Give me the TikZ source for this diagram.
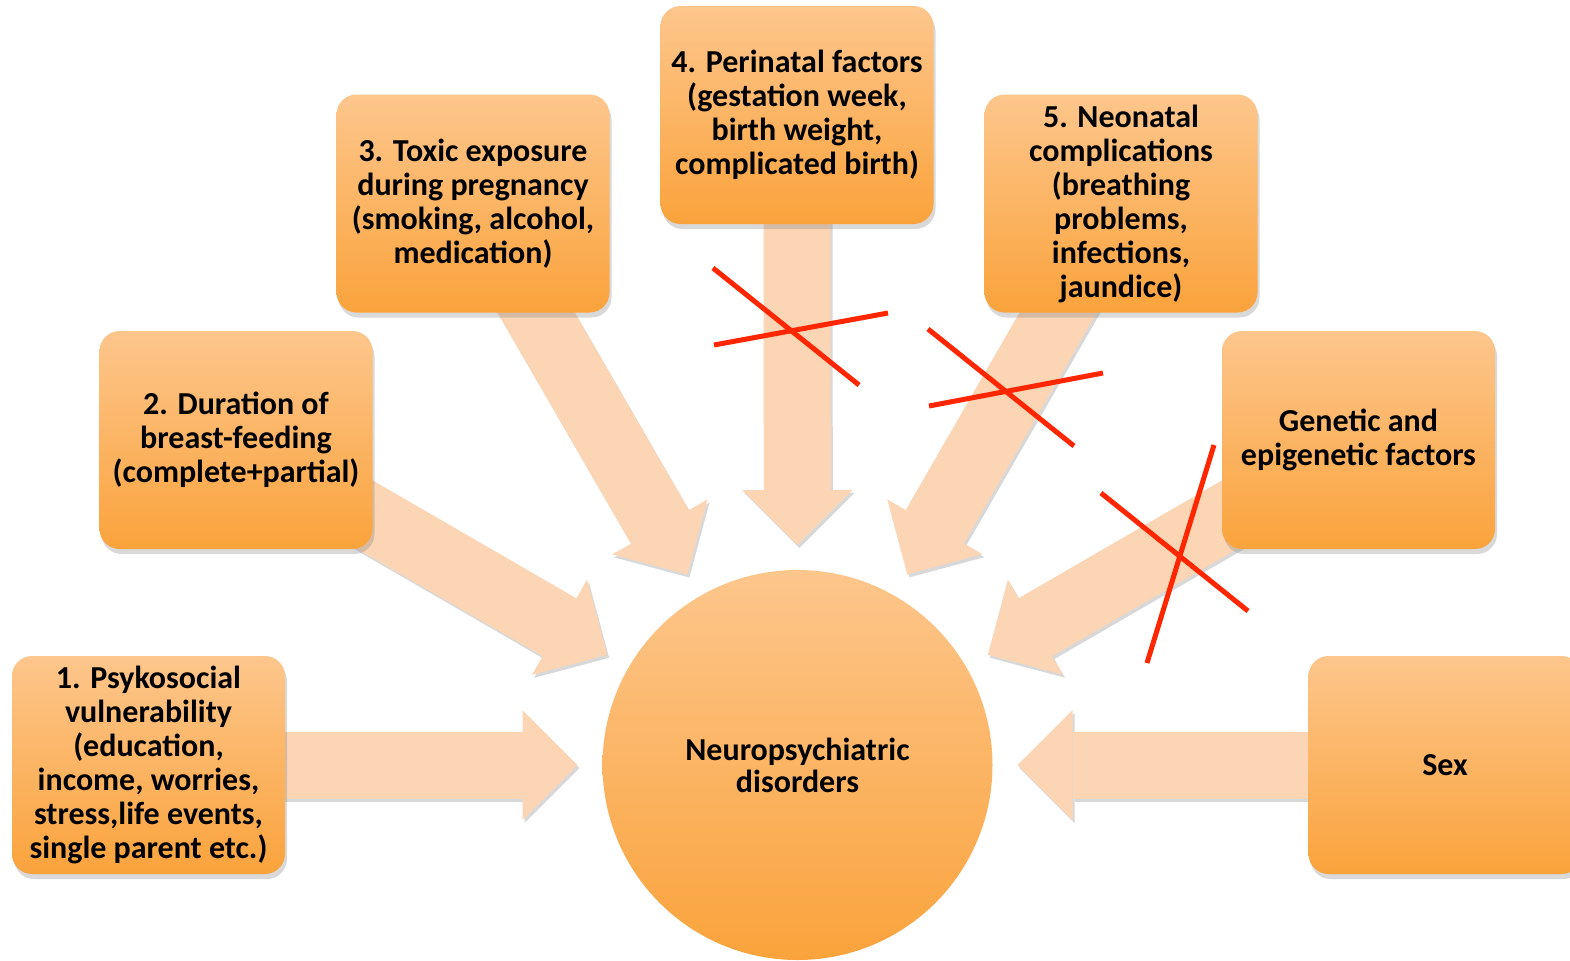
\documentclass[tikz,border=0pt]{standalone}
\usepackage{fontspec}
\setmainfont{Carlito}
\usetikzlibrary{arrows.meta,shadows}
\definecolor{boxtop}{RGB}{253,198,140}
\definecolor{boxbottom}{RGB}{250,163,60}
\definecolor{arrowfill}{RGB}{252,213,181}
\definecolor{crossred}{RGB}{255,38,0}
\pgfdeclarelayer{background}
\pgfsetlayers{background,main}

\begin{document}
\begin{tikzpicture}[
  x=0.5pt, y=-0.5pt,
  factor/.style={rectangle, rounded corners=10pt, top color=boxtop, bottom color=boxbottom,
    minimum width=136.5pt, minimum height=109pt, inner sep=2pt, align=center,
    font=\bfseries\fontsize{16pt}{17pt}\selectfont,
    drop shadow={shadow xshift=1pt, shadow yshift=-2.5pt, opacity=0.3}},
  hub/.style={circle, top color=boxtop, bottom color=boxbottom, minimum size=195pt,
    align=center, font=\bfseries\fontsize{16pt}{16pt}\selectfont},
  bigarrow/.style={draw=arrowfill, line width=33.5pt, shorten >=110pt,
    -{Triangle[width=55pt, length=27.5pt, line width=0pt]}},
  arrowshade/.style={bigarrow, draw=black!30, opacity=0.5,
    transform canvas={shift={(1pt,-1.5pt)}}},
  strike/.style={draw=crossred, line width=2.5pt}
]
\useasboundingbox (0,0) rectangle (1570,960);
\clip (0,0) rectangle (1570,960);

% the outcome
\node[hub] (hub) at (797.5,765) {Neuropsychiatric\\disorders};

% risk factors
\node[factor] (psycho) at (148.5,765) {1. Psykosocial\\vulnerability\\(education,\\income, worries,\\stress,life events,\\single parent etc.)};
\node[factor] (breast) at (236,440) {2. Duration of\\breast-feeding\\(complete+partial)};
\node[factor] (toxic) at (473,203.5) {3. Toxic exposure\\during pregnancy\\(smoking, alcohol,\\medication)};
\node[factor] (perinatal) at (797,115) {4. Perinatal factors\\(gestation week,\\birth weight,\\complicated birth)};
\node[factor] (neonatal) at (1121,203.5) {5. Neonatal\\complications\\(breathing\\problems,\\infections,\\jaundice)};
\node[factor] (genetic) at (1358.5,440) {Genetic and\\epigenetic factors};
\node[factor] (sex) at (1445,765) {Sex};

% block arrows into the circle
\begin{pgfonlayer}{background}
\foreach \f in {psycho,breast,toxic,perinatal,neonatal,genetic,sex} {
  \draw[arrowshade] (\f.center) -- (hub.center);
  \draw[bigarrow] (\f.center) -- (hub.center);
}
\end{pgfonlayer}

% crossed-out links
\draw[strike] (713,268) -- (859,385);
\draw[strike] (714,345) -- (888,313);
\draw[strike] (928,329) -- (1074,446);
\draw[strike] (929,406) -- (1103,373);
\draw[strike] (1101,493) -- (1248,611);
\draw[strike] (1214,445) -- (1147,663);
\end{tikzpicture}
\end{document}
